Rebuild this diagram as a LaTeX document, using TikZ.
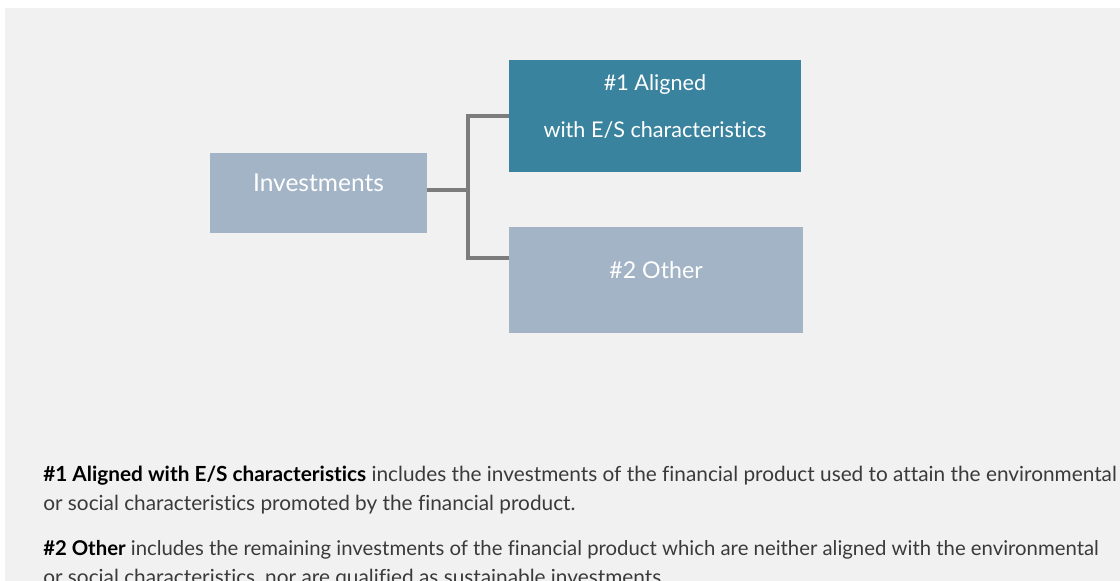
\documentclass[tikz,border=0pt]{standalone}
\usepackage{fontspec}
\setmainfont{Lato}[RawFeature={-liga}]
\definecolor{bgc}{HTML}{F1F1F1}
\definecolor{lightbox}{HTML}{A2B4C6}
\definecolor{tealbox}{HTML}{3A839F}
\definecolor{connc}{HTML}{7C7C7C}
\definecolor{bodyc}{HTML}{3A3A3A}
\tikzset{
  boxnode/.style={draw=none, inner sep=0pt},
  boxtext/.style={text=white, inner sep=0pt},
  conn/.style={draw=connc, line width=2.3pt},
  bodyline/.style={anchor=base west, inner sep=0pt, text=bodyc, font=\fontsize{15.6pt}{18pt}\selectfont}
}
\begin{document}
\begin{tikzpicture}[x=0.75pt,y=-0.75pt]
\useasboundingbox (0,0) rectangle (1120,581);
\clip (0,0) rectangle (1120,581);
\fill[white] (0,0) rectangle (1120,581);
\fill[bgc] (5,8) rectangle (1120,581);
% boxes
\node[boxnode, fill=lightbox, minimum width=162.75pt, minimum height=60pt] (inv) at (318.5,193) {};
\node[boxnode, fill=tealbox, minimum width=219pt, minimum height=84pt] (a1) at (655,116) {};
\node[boxnode, fill=lightbox, minimum width=220.5pt, minimum height=79.5pt] (a2) at (656,280) {};
% box texts
\node[boxtext, font=\fontsize{18.4pt}{20pt}\selectfont] (invt) at (318.5,183) {Investments};
\node[boxtext, font=\fontsize{16.2pt}{18pt}\selectfont] (a1t1) at (655,85) {\#1 Aligned};
\node[boxtext, font=\fontsize{16.2pt}{18pt}\selectfont] (a1t2) at (655,130) {with E/S characteristics};
\node[boxtext, font=\fontsize{17.4pt}{19pt}\selectfont] (a2t) at (656,270) {\#2 Other};
% connectors
\coordinate (jm) at (468,190);
\coordinate (jt) at (468,116);
\coordinate (jb) at (468,258);
\draw[conn] (inv.east |- jm) -- (jm);
\draw[conn] (a1.west |- jt) -- (jt) -- (jb) -- (a2.west |- jb);
% bottom text
\node[bodyline] (p1a) at (43,481) {\textcolor{black}{\textbf{\#1 Aligned with E/S characteristics}} includes the investments of the financial product used to attain the environmental};
\node[bodyline] (p1b) at (43,510) {or social characteristics promoted by the financial product.};
\node[bodyline, font=\fontsize{15.25pt}{18pt}\selectfont] (p2a) at (43,555) {\textcolor{black}{\textbf{\#2 Other}} includes the remaining investments of the financial product which are neither aligned with the environmental};
\node[bodyline] (p2b) at (43,584) {or social characteristics, nor are qualified as sustainable investments.};
\end{tikzpicture}
\end{document}
